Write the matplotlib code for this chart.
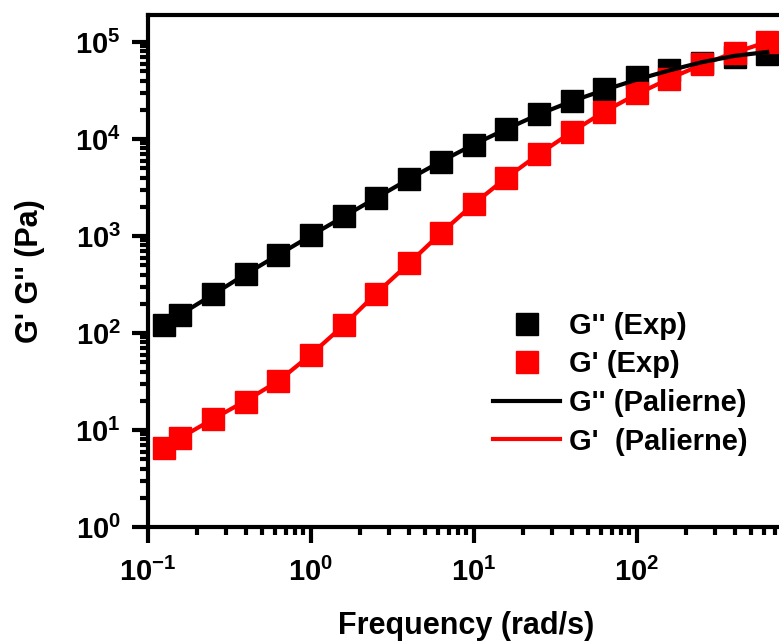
import matplotlib
matplotlib.use("Agg")
import matplotlib.pyplot as plt
from matplotlib.ticker import LogLocator, NullFormatter, FixedLocator

plt.rcParams['font.family'] = ['Liberation Sans', 'DejaVu Sans']
plt.rcParams['font.weight'] = 'bold'
plt.rcParams['mathtext.fontset'] = 'custom'
plt.rcParams['mathtext.rm'] = 'Liberation Sans:bold'
plt.rcParams['mathtext.bf'] = 'Liberation Sans:bold'
plt.rcParams['mathtext.it'] = 'Liberation Sans:bold'
plt.rcParams['mathtext.default'] = 'bf'

# Data
freq = [0.126, 0.158, 0.251, 0.398, 0.631, 1.0, 1.585, 2.51, 3.98, 6.31,
        10.0, 15.85, 25.1, 39.8, 63.1, 100.0, 158.5, 251.0, 398.0, 631.0]
g2_exp = [120, 155, 255, 410, 640, 1020, 1590, 2480, 3850, 5850,
          8700, 12800, 18200, 24800, 32800, 43500, 52000, 60500, 70000, 76000]
g1_exp = [6.5, 8.2, 13, 19.5, 32, 59, 121, 255, 525, 1080,
          2150, 4000, 7000, 11800, 19200, 29500, 42000, 59000, 77000, 100000]
g2_fit = [118, 155, 250, 405, 640, 1010, 1580, 2470, 3850, 5900,
          8800, 12700, 18000, 24500, 32000, 41000, 51000, 62000, 72000, 79000]
g1_fit = [6.5, 8.3, 13, 20, 32, 60, 120, 255, 520, 1080,
          2150, 4000, 7000, 11800, 19200, 29000, 42000, 58500, 78000, 100000]

labels = ["G'' (Exp)", "G' (Exp)", "G'' (Palierne)", "G'  (Palierne)"]

W, H = 779, 641
fig = plt.figure(figsize=(W/100, H/100), dpi=100)
left_px, right_px, top_px, bot_px = 148, 784, 15, 527
ax = fig.add_axes([left_px/W, (H-bot_px)/H, (right_px-left_px)/W, (bot_px-top_px)/H])

h1, = ax.plot(freq, g2_exp, 's', color='black', markersize=15.5, linestyle='none', zorder=2, label=labels[0])
h2, = ax.plot(freq, g1_exp, 's', color='red', markersize=15.5, linestyle='none', zorder=3, label=labels[1])
h4, = ax.plot(freq, g1_fit, '-', color='red', lw=3, zorder=4, label=labels[3])
h3, = ax.plot(freq, g2_fit, '-', color='black', lw=3, zorder=5, label=labels[2])

ax.set_xscale('log')
ax.set_yscale('log')
ax.set_xlim(0.1, 800)
ax.set_ylim(1, 1.9e5)

for s in ['left', 'bottom', 'top', 'right']:
    ax.spines[s].set_linewidth(3)

ax.xaxis.set_major_locator(FixedLocator([0.1, 1, 10, 100]))
ax.yaxis.set_major_locator(FixedLocator([1, 10, 100, 1e3, 1e4, 1e5]))
ax.xaxis.set_minor_locator(LogLocator(base=10, subs=range(2, 10), numticks=20))
ax.yaxis.set_minor_locator(LogLocator(base=10, subs=range(2, 10), numticks=20))
ax.xaxis.set_minor_formatter(NullFormatter())
ax.yaxis.set_minor_formatter(NullFormatter())
ax.set_xticklabels([r'$\mathbf{10^{-1}}$', r'$\mathbf{10^{0}}$', r'$\mathbf{10^{1}}$', r'$\mathbf{10^{2}}$'])
ax.set_yticklabels([r'$\mathbf{10^{0}}$', r'$\mathbf{10^{1}}$', r'$\mathbf{10^{2}}$',
                    r'$\mathbf{10^{3}}$', r'$\mathbf{10^{4}}$', r'$\mathbf{10^{5}}$'])

ax.tick_params(which='major', direction='out', length=11.5, width=3, labelsize=21, top=False, right=False)
ax.tick_params(which='minor', direction='out', length=6, width=3, top=False, right=False)
ax.tick_params(axis='x', which='major', pad=11)
ax.tick_params(axis='y', which='major', pad=8)

ax.set_xlabel('Frequency (rad/s)', fontsize=22, fontweight='bold')
ax.set_ylabel("G' G'' (Pa)", fontsize=22, fontweight='bold')
ax.xaxis.set_label_coords((466-left_px)/(right_px-left_px), -(626-bot_px)/(bot_px-top_px))
ax.yaxis.set_label_coords(-(148-30)/(right_px-left_px), 0.5)
ax.xaxis.label.set_va('center')
ax.yaxis.label.set_va('center')

leg = ax.legend(handles=[h1, h2, h3, h4], loc='upper left',
                bbox_to_anchor=((493)/W, (H-312)/H), bbox_transform=fig.transFigure,
                frameon=False, fontsize=21, handlelength=2.3, handletextpad=0.3,
                labelspacing=0.36, numpoints=1, borderpad=0, borderaxespad=0)
for lh in leg.legend_handles[:2]:
    lh.set_markersize(15.5)

fig.savefig('out.png', dpi=100)
